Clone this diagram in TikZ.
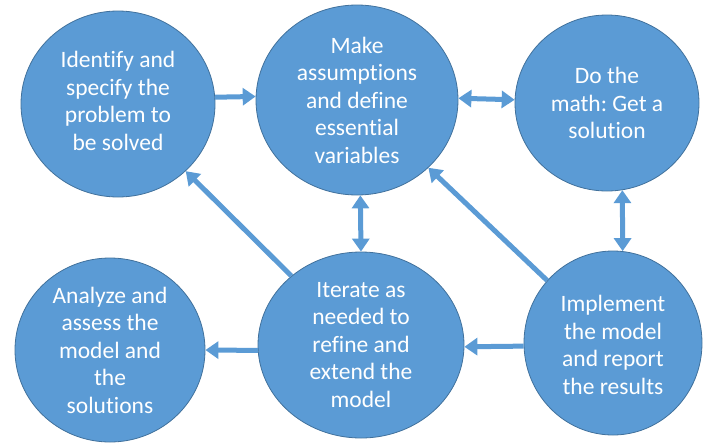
\documentclass[tikz,border=0pt]{standalone}
\usepackage{fontspec}
\setmainfont{Carlito}[Ligatures=NoCommon]
\usetikzlibrary{shapes.geometric,arrows.meta}
\definecolor{blobfill}{HTML}{5B9BD5}
\definecolor{blobline}{HTML}{41719C}
\tikzset{
  blob/.style={ellipse, fill=blobfill, draw=blobline, line width=0.8pt, inner sep=0pt},
  txt/.style={text=white, align=center, font=\fontsize{23.5}{27.5}\selectfont\frenchspacing, inner sep=0pt},
  conn/.style={draw=blobfill, line width=5pt, -{Triangle[length=13pt,width=17pt]}},
  dconn/.style={draw=blobfill, line width=5pt, {Triangle[length=13pt,width=17pt]}-{Triangle[length=13pt,width=17pt]}},
}
\begin{document}
\begin{tikzpicture}[x=1pt,y=-1pt]
\useasboundingbox (0,0) rectangle (704,445);
\node[blob, minimum width=194pt, minimum height=186pt,
  label={[txt,yshift=3pt]center:Identify and\\specify the\\problem to\\be solved}] (c1) at (118,104) {};
\node[blob, minimum width=202pt, minimum height=190pt,
  label={[txt]center:Make\\assumptions\\and define\\essential\\variables}] (c2) at (357,100) {};
\node[blob, minimum width=184pt, minimum height=176pt,
  label={[txt]center:Do the\\math: Get a\\solution}] (c3) at (607,103) {};
\node[blob, minimum width=190pt, minimum height=184pt,
  label={[txt]center:Analyze and\\assess the\\model and\\the\\solutions}] (c4) at (110,350) {};
\node[blob, minimum width=206pt, minimum height=186pt,
  label={[txt]center:Iterate as\\needed to\\refine and\\extend the\\model}] (c5) at (361,345) {};
\node[blob, minimum width=178pt, minimum height=184pt,
  label={[txt,yshift=-2pt]center:Implement\\the model\\and report\\the results}] (c6) at (613,343) {};

\draw[conn] (c1.4) -- (c2.178);
\draw[dconn] (c2.1) -- (c3.178);
\draw[dconn] (c2.-88) -- (c5.north);
\draw[dconn] (c3.-80) -- (c6.84);
\draw[conn] (c5) -- (c1);
\draw[conn] (c6) -- (c2);
\draw[conn] (c5.183) -- (c4.east);
\draw[conn] (c6.182) -- (c5.-1);
\end{tikzpicture}
\end{document}
